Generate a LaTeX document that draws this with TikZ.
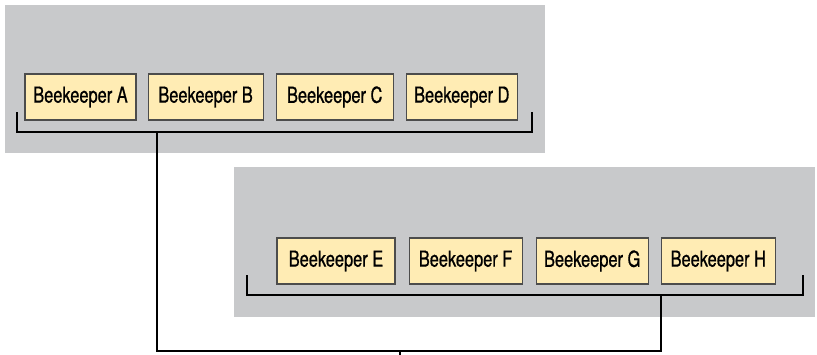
\documentclass[tikz,border=0pt]{standalone}
\usepackage{fontspec}
\setmainfont[FakeStretch=0.745, FakeBold=0.8]{TeX Gyre Heros}
\usetikzlibrary{positioning}
\definecolor{panelgray}{RGB}{200,201,203}
\definecolor{keeperfill}{RGB}{255,236,180}

\begin{document}
\begin{tikzpicture}[x=1pt, y=-1pt,
    keeper/.style={draw=black!70, line width=1.1pt, fill=keeperfill, minimum height=46pt,
                   inner xsep=6pt, inner ysep=0pt, font=\fontsize{22}{26}\selectfont},
    bracket/.style={line width=1.8pt, black}]
    \useasboundingbox (0,0) rectangle (817,354);

    % Panels:
    \fill[panelgray] (5,5) rectangle (545,153);
    \fill[panelgray] (234,167) rectangle (815,317);

    % First group:
    \node[keeper, minimum width=111pt] (a) at (80.5,97) {Beekeeper A};
    \node[keeper, minimum width=115pt, right=11pt of a] (b) {Beekeeper B};
    \node[keeper, minimum width=117pt, right=12pt of b] (c) {Beekeeper C};
    \node[keeper, minimum width=111pt, right=12pt of c] (d) {Beekeeper D};

    % Second group:
    \node[keeper, minimum width=118pt] (e) at (336,261) {Beekeeper E};
    \node[keeper, minimum width=113pt, right=13pt of e] (f) {Beekeeper F};
    \node[keeper, minimum width=112pt, right=13pt of f] (g) {Beekeeper G};
    \node[keeper, minimum width=114pt, right=12pt of g] (h) {Beekeeper H};

    % Brackets:
    \draw[bracket] (17,112) |- (532,132) -- (532,112);
    \draw[bracket] (247,275) |- (803,295) -- (803,275);

    % Link between the groups:
    \coordinate (top hub) at (157,132);
    \coordinate (bottom hub) at (661,295);
    \coordinate (link) at (400,351);
    \draw[bracket] (top hub) |- (link) -| (bottom hub);
    \draw[bracket] (link) -- ++(0,6);
\end{tikzpicture}
\end{document}
